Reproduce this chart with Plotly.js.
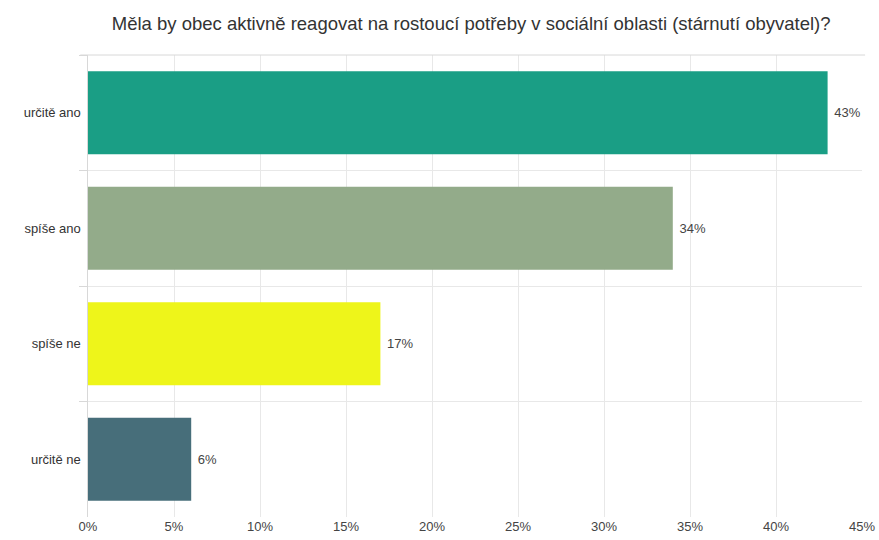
<!DOCTYPE html>
<html>
<head>
<meta charset="utf-8">
<script src="https://cdn.plot.ly/plotly-3.0.1.min.js"></script>
<style>html,body{margin:0;padding:0;background:#fff;}#chart{width:879px;height:540px;}</style>
</head>
<body>
<div id="chart"></div>
<script>
const categories = ["určitě ano", "spíše ano", "spíše ne", "určitě ne"];
const values = [43, 34, 17, 6];
const colors = ["#1a9e85", "#93ab8a", "#eef51a", "#476e7a"];
const xTickVals = [0, 5, 10, 15, 20, 25, 30, 35, 40, 45];
const titleText = "Měla by obec aktivně reagovat na rostoucí potřeby v sociální oblasti (stárnutí obyvatel)?";

const trace = {
  type: "bar",
  orientation: "h",
  y: categories,
  x: values,
  marker: {color: colors},
  text: values.map(v => "\u00a0" + v + "%"),
  textposition: "outside",
  cliponaxis: false,
  textfont: {family: "Liberation Sans, Arial, sans-serif", size: 13, color: "#444"},
  hoverinfo: "none"
};

const layout = {
  width: 879, height: 540,
  margin: {l: 88, r: 17, t: 55, b: 23},
  paper_bgcolor: "#fff", plot_bgcolor: "#fff",
  bargap: 0.28,
  showlegend: false,
  title: {
    text: titleText,
    x: 0.536, xanchor: "center", y: 0.957, yanchor: "middle",
    font: {family: "Liberation Sans, Arial, sans-serif", size: 18.5, color: "#333"}
  },
  xaxis: {
    range: [0, 45],
    tickvals: xTickVals,
    ticktext: xTickVals.map(v => v + "%"),
    showgrid: true, gridcolor: "#e8e8e8", gridwidth: 1,
    zeroline: false, showline: false,
    ticks: "",
    tickfont: {family: "Liberation Sans, Arial, sans-serif", size: 13, color: "#444"}
  },
  yaxis: {
    type: "category",
    autorange: "reversed",
    tickson: "boundaries",
    showgrid: true, gridcolor: "#e8e8e8", gridwidth: 1,
    ticks: "outside", ticklen: 8, tickcolor: "#d8d8d8",
    showline: true, linecolor: "#d8d8d8", linewidth: 1,
    zeroline: false,
    ticksuffix: " ",
    tickfont: {family: "Liberation Sans, Arial, sans-serif", size: 13, color: "#333"}
  },
  shapes: [{
    type: "line", xref: "paper", yref: "paper",
    x0: -0.01, x1: 1.004, y0: 1, y1: 1,
    line: {color: "#d8d8d8", width: 1}
  }]
};

Plotly.newPlot("chart", [trace], layout, {displayModeBar: false, staticPlot: true});
</script>
</body>
</html>
